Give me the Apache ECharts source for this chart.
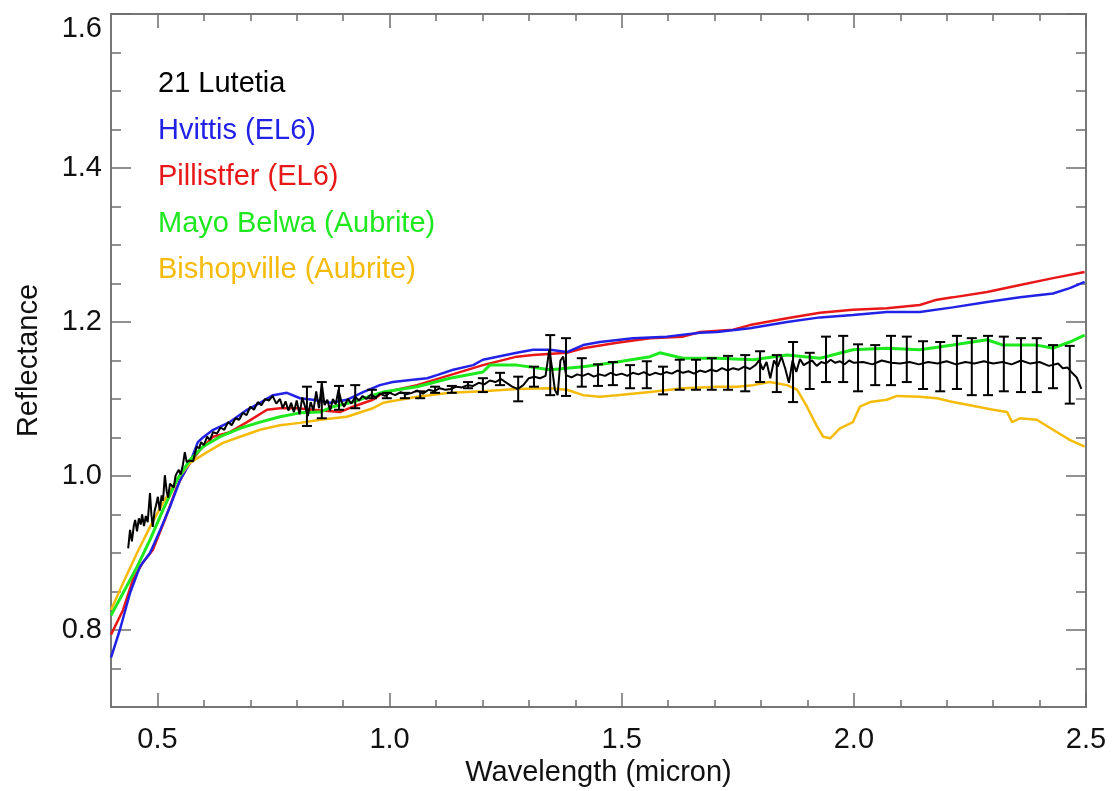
<!DOCTYPE html>
<html>
<head>
<meta charset="utf-8">
<title>Lutetia reflectance</title>
<script src="https://cdn.jsdelivr.net/npm/echarts@6/dist/echarts.min.js"></script>
<style>
  html, body { margin: 0; padding: 0; background: #fff; }
  #chart { width: 1115px; height: 791px; }
</style>
</head>
<body>
<div id="chart"></div>
<script>
// axis ticks
var xMajorTicks = [0.5, 1.0, 1.5, 2.0, 2.5];
var xMinorTicks = [0.6, 0.7, 0.8, 0.9, 1.1, 1.2, 1.3, 1.4, 1.6, 1.7, 1.8, 1.9, 2.1, 2.2, 2.3, 2.4];
var yMajorTicks = [0.8, 1.0, 1.2, 1.4, 1.6];
var yMinorTicks = [0.75, 0.85, 0.9, 0.95, 1.05, 1.1, 1.15, 1.25, 1.3, 1.35, 1.45, 1.5, 1.55];

// 21 Lutetia spectrum
var lutetiaX = [0.437, 0.441, 0.445, 0.449, 0.452, 0.456, 0.460, 0.464, 0.467, 0.471, 0.475, 0.479, 0.484, 0.487, 0.490, 0.494, 0.497, 0.501, 0.505, 0.509,
  0.512, 0.516, 0.520, 0.523, 0.527, 0.531, 0.535, 0.539, 0.542, 0.546, 0.550, 0.555, 0.559, 0.563, 0.568, 0.572, 0.577, 0.581, 0.585, 0.590,
  0.594, 0.600, 0.607, 0.613, 0.620, 0.628, 0.636, 0.644, 0.652, 0.660, 0.668, 0.676, 0.684, 0.692, 0.700, 0.708, 0.716, 0.724, 0.732, 0.740,
  0.748, 0.756, 0.764, 0.770, 0.776, 0.782, 0.788, 0.794, 0.800, 0.806, 0.812, 0.818, 0.824, 0.830, 0.836, 0.842, 0.848, 0.854, 0.860, 0.866,
  0.872, 0.878, 0.884, 0.890, 0.896, 0.902, 0.910, 0.918, 0.926, 0.934, 0.942, 0.950, 0.960, 0.970, 0.980, 0.990, 1.000, 1.012, 1.024, 1.036,
  1.048, 1.060, 1.072, 1.084, 1.096, 1.108, 1.120, 1.132, 1.144, 1.156, 1.168, 1.180, 1.192, 1.204, 1.216, 1.228, 1.240, 1.252, 1.264, 1.276,
  1.288, 1.300, 1.312, 1.324, 1.336, 1.344, 1.350, 1.356, 1.362, 1.368, 1.374, 1.380, 1.392, 1.404, 1.416, 1.428, 1.440, 1.452, 1.464, 1.476,
  1.488, 1.500, 1.512, 1.524, 1.536, 1.548, 1.560, 1.572, 1.584, 1.596, 1.608, 1.620, 1.632, 1.644, 1.656, 1.668, 1.680, 1.692, 1.704, 1.716,
  1.728, 1.740, 1.752, 1.764, 1.776, 1.788, 1.796, 1.804, 1.812, 1.820, 1.828, 1.836, 1.844, 1.852, 1.860, 1.868, 1.876, 1.884, 1.892, 1.900,
  1.910, 1.920, 1.930, 1.940, 1.950, 1.960, 1.970, 1.980, 1.990, 2.000, 2.020, 2.040, 2.060, 2.080, 2.100, 2.120, 2.140, 2.160, 2.180, 2.200,
  2.220, 2.240, 2.260, 2.280, 2.300, 2.320, 2.340, 2.360, 2.380, 2.400, 2.420, 2.440, 2.450, 2.460, 2.470, 2.480, 2.490];
var lutetiaY = [0.906, 0.930, 0.915, 0.935, 0.943, 0.928, 0.945, 0.937, 0.950, 0.935, 0.948, 0.940, 0.978, 0.950, 0.934, 0.955, 0.962, 0.973, 0.955, 0.975,
  0.968, 1.001, 0.980, 0.972, 0.990, 0.991, 0.985, 1.000, 1.004, 1.008, 1.002, 1.015, 1.031, 1.018, 1.020, 1.022, 1.019, 1.030, 1.038, 1.036,
  1.044, 1.040, 1.051, 1.047, 1.057, 1.055, 1.063, 1.060, 1.070, 1.066, 1.075, 1.073, 1.082, 1.079, 1.090, 1.086, 1.096, 1.092, 1.100, 1.098,
  1.104, 1.094, 1.100, 1.088, 1.097, 1.085, 1.095, 1.083, 1.098, 1.080, 1.102, 1.090, 1.078, 1.096, 1.085, 1.110, 1.088, 1.120, 1.092, 1.099,
  1.085, 1.100, 1.093, 1.112, 1.097, 1.090, 1.100, 1.094, 1.103, 1.098, 1.104, 1.100, 1.106, 1.102, 1.107, 1.104, 1.108, 1.105, 1.109, 1.106,
  1.108, 1.111, 1.107, 1.112, 1.110, 1.114, 1.112, 1.113, 1.116, 1.115, 1.118, 1.117, 1.121, 1.119, 1.124, 1.122, 1.126, 1.121, 1.116, 1.113,
  1.118, 1.127, 1.129, 1.127, 1.130, 1.164, 1.140, 1.112, 1.105, 1.150, 1.155, 1.131, 1.128, 1.132, 1.130, 1.133, 1.129, 1.132, 1.130, 1.134,
  1.131, 1.133, 1.130, 1.134, 1.132, 1.135, 1.131, 1.134, 1.132, 1.135, 1.133, 1.137, 1.134, 1.136, 1.133, 1.137, 1.135, 1.138, 1.136, 1.140,
  1.137, 1.140, 1.138, 1.142, 1.139, 1.144, 1.150, 1.138, 1.148, 1.127, 1.150, 1.142, 1.155, 1.140, 1.121, 1.150, 1.135, 1.152, 1.144, 1.147,
  1.150, 1.143, 1.148, 1.146, 1.151, 1.147, 1.149, 1.145, 1.150, 1.147, 1.148, 1.145, 1.150, 1.147, 1.146, 1.148, 1.145, 1.148, 1.146, 1.149,
  1.145, 1.148, 1.146, 1.149, 1.146, 1.148, 1.145, 1.150, 1.146, 1.148, 1.143, 1.146, 1.140, 1.141, 1.134, 1.128, 1.113];

// Lutetia error bars
var errX = [0.822, 0.854, 0.891, 0.926, 0.962, 0.994, 1.033, 1.066, 1.098, 1.134, 1.169, 1.201, 1.238, 1.277, 1.311, 1.346,
  1.380, 1.414, 1.449, 1.481, 1.518, 1.554, 1.589, 1.625, 1.660, 1.694, 1.729, 1.766, 1.798, 1.834, 1.869, 1.905,
  1.940, 1.977, 2.009, 2.046, 2.080, 2.114, 2.149, 2.186, 2.222, 2.254, 2.289, 2.323, 2.360, 2.394, 2.429, 2.465];
var errHigh = [1.116, 1.122, 1.117, 1.118, 1.112, 1.108, 1.108, 1.110, 1.116, 1.117, 1.122, 1.127, 1.134, 1.129, 1.142, 1.183,
  1.179, 1.153, 1.145, 1.148, 1.144, 1.149, 1.142, 1.151, 1.151, 1.153, 1.156, 1.157, 1.162, 1.157, 1.174, 1.160,
  1.181, 1.182, 1.171, 1.170, 1.182, 1.181, 1.175, 1.174, 1.182, 1.179, 1.182, 1.181, 1.179, 1.179, 1.170, 1.169];
var errLow = [1.065, 1.075, 1.086, 1.088, 1.101, 1.101, 1.101, 1.101, 1.108, 1.108, 1.114, 1.109, 1.118, 1.097, 1.116, 1.105,
  1.104, 1.116, 1.117, 1.118, 1.114, 1.114, 1.106, 1.112, 1.112, 1.112, 1.112, 1.110, 1.122, 1.109, 1.096, 1.113,
  1.122, 1.122, 1.110, 1.118, 1.118, 1.122, 1.113, 1.110, 1.113, 1.105, 1.105, 1.110, 1.109, 1.109, 1.114, 1.094];

// Hvittis (EL6)
var hvittisX = [0.400, 0.419, 0.441, 0.462, 0.484, 0.506, 0.527, 0.549, 0.570, 0.587, 0.598, 0.620, 0.656, 0.693, 0.721, 0.749,
  0.779, 0.807, 0.835, 0.872, 0.908, 0.943, 0.979, 1.007, 1.050, 1.081, 1.102, 1.137, 1.180, 1.201, 1.274, 1.309, 1.346,
  1.382, 1.417, 1.453, 1.524, 1.597, 1.669, 1.705, 1.776, 1.856, 1.927, 1.998, 2.071, 2.142, 2.213, 2.287, 2.358, 2.429, 2.465, 2.497];
var hvittisY = [0.764, 0.800, 0.848, 0.882, 0.900, 0.930, 0.960, 0.995, 1.017, 1.044, 1.050, 1.060, 1.070, 1.086, 1.095, 1.105,
  1.108, 1.101, 1.099, 1.095, 1.099, 1.109, 1.118, 1.122, 1.125, 1.127, 1.131, 1.138, 1.144, 1.151, 1.160, 1.164, 1.164,
  1.161, 1.170, 1.174, 1.179, 1.181, 1.186, 1.187, 1.192, 1.200, 1.206, 1.209, 1.213, 1.213, 1.219, 1.226, 1.232, 1.237, 1.244, 1.252];

// Pillistfer (EL6)
var pillistferX = [0.400, 0.426, 0.447, 0.469, 0.490, 0.516, 0.542, 0.564, 0.592, 0.620, 0.656, 0.693, 0.736, 0.764, 0.801, 0.835,
  0.893, 0.921, 0.964, 0.986, 1.059, 1.130, 1.201, 1.274, 1.309, 1.382, 1.417, 1.490, 1.561, 1.632, 1.669, 1.740, 1.776,
  1.856, 1.927, 1.998, 2.071, 2.142, 2.179, 2.213, 2.287, 2.358, 2.429, 2.497];
var pillistferY = [0.794, 0.826, 0.865, 0.888, 0.904, 0.943, 0.986, 1.012, 1.034, 1.051, 1.057, 1.070, 1.086, 1.088, 1.088, 1.086,
  1.083, 1.090, 1.099, 1.108, 1.118, 1.131, 1.144, 1.155, 1.157, 1.160, 1.166, 1.173, 1.179, 1.181, 1.187, 1.190, 1.196,
  1.205, 1.212, 1.216, 1.218, 1.222, 1.229, 1.232, 1.239, 1.248, 1.257, 1.265];

// Mayo Belwa (Aubrite)
var mayoX = [0.400, 0.426, 0.456, 0.484, 0.512, 0.542, 0.570, 0.598, 0.635, 0.678, 0.721, 0.764, 0.807, 0.850, 0.878, 0.921,
  0.964, 0.986, 1.059, 1.130, 1.201, 1.216, 1.274, 1.346, 1.417, 1.490, 1.561, 1.582, 1.632, 1.705, 1.783, 1.856, 1.927,
  1.998, 2.071, 2.142, 2.213, 2.287, 2.321, 2.394, 2.429, 2.465, 2.497];
var mayoY = [0.819, 0.848, 0.882, 0.917, 0.956, 0.995, 1.021, 1.038, 1.051, 1.062, 1.070, 1.077, 1.082, 1.083, 1.090, 1.096,
  1.105, 1.109, 1.116, 1.127, 1.135, 1.144, 1.144, 1.138, 1.142, 1.148, 1.155, 1.160, 1.153, 1.153, 1.151, 1.157, 1.153,
  1.164, 1.166, 1.164, 1.170, 1.177, 1.170, 1.170, 1.166, 1.174, 1.183];

// Bishopville (Aubrite)
var bishopX = [0.400, 0.426, 0.456, 0.484, 0.512, 0.542, 0.570, 0.607, 0.641, 0.678, 0.721, 0.764, 0.807, 0.850, 0.908, 0.964,
  0.986, 1.059, 1.130, 1.201, 1.274, 1.346, 1.382, 1.417, 1.453, 1.490, 1.561, 1.632, 1.705, 1.748, 1.783, 1.819, 1.856,
  1.878, 1.899, 1.921, 1.934, 1.949, 1.970, 1.998, 2.013, 2.035, 2.071, 2.093, 2.142, 2.179, 2.213, 2.250, 2.300, 2.330,
  2.341, 2.358, 2.394, 2.429, 2.465, 2.497];
var bishopY = [0.826, 0.861, 0.900, 0.934, 0.965, 0.995, 1.017, 1.031, 1.043, 1.051, 1.060, 1.066, 1.069, 1.073, 1.077, 1.088,
  1.095, 1.103, 1.108, 1.110, 1.113, 1.114, 1.112, 1.105, 1.103, 1.105, 1.109, 1.114, 1.116, 1.116, 1.118, 1.122, 1.118,
  1.112, 1.090, 1.064, 1.051, 1.049, 1.062, 1.070, 1.090, 1.096, 1.099, 1.104, 1.103, 1.101, 1.096, 1.092, 1.086, 1.083,
  1.070, 1.075, 1.073, 1.060, 1.047, 1.038];

var FONT = 'Liberation Sans';
var FS = 29;
var frameColor = '#6e6e6e';
var colors = {
  lutetia: '#000000',
  hvittis: '#2222e6',
  pillistfer: '#e81818',
  mayo: '#1ee81e',
  bishop: '#f5bb0a'
};

function zip(xs, ys) {
  return xs.map(function (x, i) { return [x, ys[i]]; });
}
function fmt(v) { return v.toFixed(1); }

function xAxisDef(pos, ticks, len, withLabels) {
  return {
    type: 'value', position: pos, min: 0.4, max: 2.5,
    name: withLabels ? 'Wavelength (micron)' : '',
    nameLocation: 'middle', nameGap: 46,
    nameTextStyle: { fontFamily: FONT, fontSize: FS, color: '#111' },
    axisLine: { show: true, onZero: false, lineStyle: { color: frameColor, width: 1.5 } },
    axisTick: { show: true, inside: true, length: len, customValues: ticks, lineStyle: { color: frameColor, width: 1.5 } },
    axisLabel: { show: withLabels, customValues: xMajorTicks, formatter: fmt, margin: 18,
      fontFamily: FONT, fontSize: FS, color: '#111' },
    splitLine: { show: false }
  };
}
function yAxisDef(pos, ticks, len, withLabels) {
  return {
    type: 'value', position: pos, min: 0.7, max: 1.6,
    name: withLabels ? 'Reflectance' : '',
    nameLocation: 'middle', nameGap: 68,
    nameTextStyle: { fontFamily: FONT, fontSize: FS, color: '#111' },
    axisLine: { show: true, onZero: false, lineStyle: { color: frameColor, width: 1.5 } },
    axisTick: { show: true, inside: true, length: len, customValues: ticks, lineStyle: { color: frameColor, width: 1.5 } },
    axisLabel: { show: withLabels, customValues: yMajorTicks, formatter: fmt, margin: 9,
      verticalAlignMaxLabel: 'top',
      fontFamily: FONT, fontSize: FS, color: '#111' },
    splitLine: { show: false }
  };
}

function lineSeries(name, xs, ys, color, width) {
  return {
    name: name, type: 'line', xAxisIndex: 0, yAxisIndex: 0,
    data: zip(xs, ys), showSymbol: false, symbol: 'none',
    lineStyle: { color: color, width: width }, itemStyle: { color: color },
    z: 3
  };
}

var errData = errX.map(function (x, i) { return [x, errLow[i], errHigh[i]]; });

var chart = echarts.init(document.getElementById('chart'));
chart.setOption({
  animation: false,
  backgroundColor: '#ffffff',
  grid: { left: 111, right: 29, top: 14, bottom: 84, containLabel: false, outerBoundsMode: 'none' },
  legend: {
    left: 148, top: 64, orient: 'vertical',
    icon: 'none', itemWidth: 0, itemHeight: 30, itemGap: 16.5,
    selectedMode: false,
    textStyle: { fontFamily: FONT, fontSize: FS, lineHeight: 30 },
    data: [
      { name: '21 Lutetia', textStyle: { color: colors.lutetia } },
      { name: 'Hvittis (EL6)', textStyle: { color: colors.hvittis } },
      { name: 'Pillistfer (EL6)', textStyle: { color: colors.pillistfer } },
      { name: 'Mayo Belwa (Aubrite)', textStyle: { color: colors.mayo } },
      { name: 'Bishopville (Aubrite)', textStyle: { color: colors.bishop } }
    ]
  },
  xAxis: [
    xAxisDef('bottom', xMajorTicks, 14, true),
    xAxisDef('bottom', xMinorTicks, 7, false),
    xAxisDef('top', xMajorTicks, 14, false),
    xAxisDef('top', xMinorTicks, 7, false)
  ],
  yAxis: [
    yAxisDef('left', yMajorTicks, 20, true),
    yAxisDef('left', yMinorTicks, 10, false),
    yAxisDef('right', yMajorTicks, 20, false),
    yAxisDef('right', yMinorTicks, 10, false)
  ],
  series: [
    lineSeries('Pillistfer (EL6)', pillistferX, pillistferY, colors.pillistfer, 2.5),
    lineSeries('Hvittis (EL6)', hvittisX, hvittisY, colors.hvittis, 2.5),
    lineSeries('Bishopville (Aubrite)', bishopX, bishopY, colors.bishop, 2.5),
    lineSeries('Mayo Belwa (Aubrite)', mayoX, mayoY, colors.mayo, 3),
    lineSeries('21 Lutetia', lutetiaX, lutetiaY, colors.lutetia, 2),
    {
      type: 'custom', xAxisIndex: 0, yAxisIndex: 0, z: 4,
      data: errData,
      encode: { x: 0, y: [1, 2] },
      renderItem: function (params, api) {
        var x = api.value(0);
        var lo = api.coord([x, api.value(1)]);
        var hi = api.coord([x, api.value(2)]);
        var half = 5;
        var style = { stroke: '#000', lineWidth: 2 };
        return {
          type: 'group',
          children: [
            { type: 'line', shape: { x1: lo[0], y1: lo[1], x2: hi[0], y2: hi[1] }, style: style },
            { type: 'line', shape: { x1: hi[0] - half, y1: hi[1], x2: hi[0] + half, y2: hi[1] }, style: style },
            { type: 'line', shape: { x1: lo[0] - half, y1: lo[1], x2: lo[0] + half, y2: lo[1] }, style: style }
          ]
        };
      }
    }
  ]
});
</script>
</body>
</html>
